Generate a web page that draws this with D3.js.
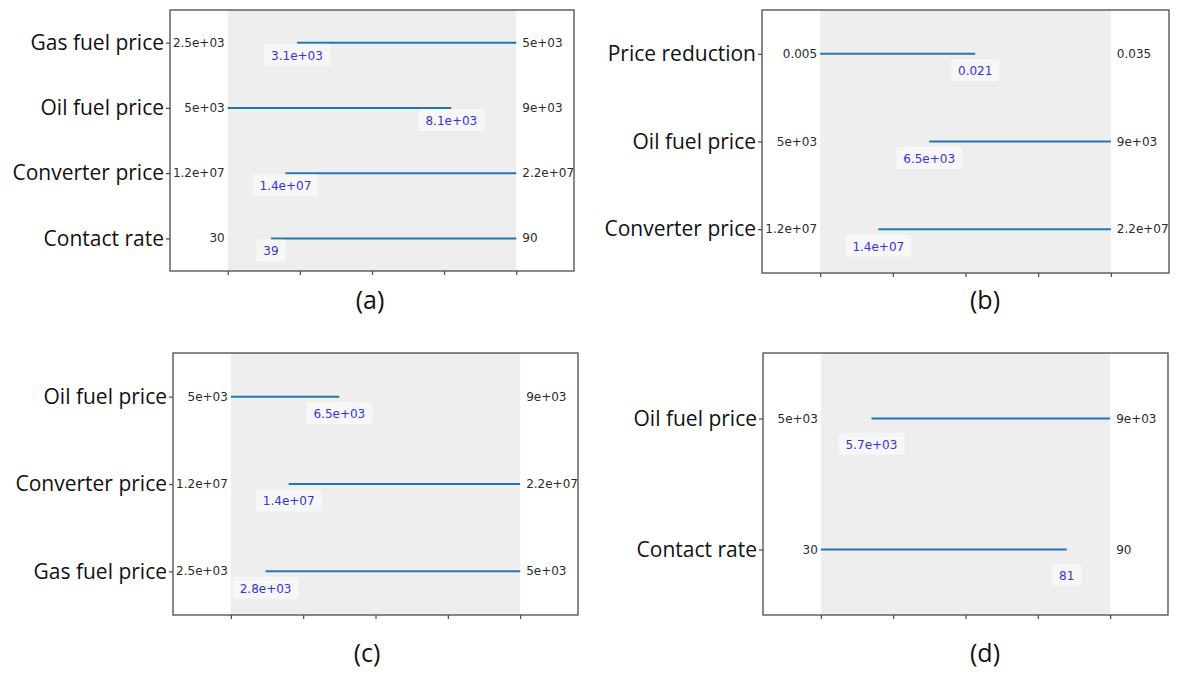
<!DOCTYPE html>
<html>
<head>
<meta charset="utf-8">
<script src="https://cdn.jsdelivr.net/npm/d3@7"></script>
<style>
  html, body { margin: 0; padding: 0; background: #ffffff; }
  svg { display: block; }
</style>
</head>
<body>
<svg id="chart" width="1180" height="675"></svg>
<script>
// Full ranges of each uncertainty (the shaded band spans min..max)
const uncertaintyNames = ["Gas fuel price", "Oil fuel price", "Converter price", "Contact rate", "Price reduction"];
const uncertaintyMin   = [2500, 5000, 1.2e7, 30, 0.005];
const uncertaintyMax   = [5000, 9000, 2.2e7, 90, 0.035];

// Box limits found for each scenario, one set of arrays per panel
const panelA_names = ["Gas fuel price", "Oil fuel price", "Converter price", "Contact rate"];
const panelA_low   = [3100, 5000, 1.4e7, 39];
const panelA_high  = [5000, 8100, 2.2e7, 90];

const panelB_names = ["Price reduction", "Oil fuel price", "Converter price"];
const panelB_low   = [0.005, 6500, 1.4e7];
const panelB_high  = [0.021, 9000, 2.2e7];

const panelC_names = ["Oil fuel price", "Converter price", "Gas fuel price"];
const panelC_low   = [5000, 1.4e7, 2800];
const panelC_high  = [6500, 2.2e7, 5000];

const panelD_names = ["Oil fuel price", "Contact rate"];
const panelD_low   = [5700, 30];
const panelD_high  = [9000, 81];

const captions = ["(a)", "(b)", "(c)", "(d)"];
const xTicks = [0, 0.25, 0.5, 0.75, 1];

// Layout of the four panels (frame box and caption position)
const layout = [
  { left: 170, top: 10,  right: 574,  bottom: 271, capX: 370, capY: 299 },
  { left: 762, top: 10,  right: 1169, bottom: 273, capX: 985, capY: 299 },
  { left: 173, top: 353, right: 578,  bottom: 615, capX: 367, capY: 652 },
  { left: 763, top: 353, right: 1168, bottom: 615, capX: 985, capY: 652 }
];

const panels = [
  { names: panelA_names, low: panelA_low, high: panelA_high },
  { names: panelB_names, low: panelB_low, high: panelB_high },
  { names: panelC_names, low: panelC_low, high: panelC_high },
  { names: panelD_names, low: panelD_low, high: panelD_high }
];

// Python-style "{:.2g}" formatting: 5e+03, 1.2e+07, 30, 0.005
const fmtFixed = d3.format(".2~g");
function fmt(v) {
  if (v === 0) return "0";
  const e = Math.floor(Math.log10(Math.abs(+v.toPrecision(2))));
  if (e < -4 || e >= 2) {
    let [m, ex] = v.toExponential(1).split("e");
    m = m.replace(/\.0$/, "");
    const sign = ex[0] === "-" ? "-" : "+";
    const digits = ex.replace(/[+-]/, "").padStart(2, "0");
    return m + "e" + sign + digits;
  }
  return fmtFixed(v);
}

const svg = d3.select("#chart");
const labelFont = "'Open Sans', Lato, sans-serif";
const numFont = "'DejaVu Sans', sans-serif";

panels.forEach((p, i) => {
  const L = layout[i];
  const g = svg.append("g");

  const x = d3.scaleLinear().domain([-0.2, 1.2]).range([L.left, L.right]);
  const y = d3.scalePoint().domain(p.names).range([L.top, L.bottom]).padding(0.5);
  const step = y.step();

  // shaded band for the normalised full range [0, 1]
  g.append("rect")
    .attr("x", x(0)).attr("y", L.top)
    .attr("width", x(1) - x(0)).attr("height", L.bottom - L.top)
    .attr("fill", "#eeeeee");

  const rows = p.names.map((name, k) => {
    const u = uncertaintyNames.indexOf(name);
    const mn = uncertaintyMin[u], mx = uncertaintyMax[u];
    const norm = d3.scaleLinear().domain([mn, mx]).range([0, 1]);
    return { name, mn, mx, lo: p.low[k], hi: p.high[k], nlo: norm(p.low[k]), nhi: norm(p.high[k]) };
  });

  // box limit lines
  g.selectAll("line.box").data(rows).join("line")
    .attr("class", "box")
    .attr("x1", d => x(d.nlo)).attr("x2", d => x(d.nhi))
    .attr("y1", d => y(d.name)).attr("y2", d => y(d.name))
    .attr("stroke", "#1f77b4").attr("stroke-width", 2);

  // full-range end labels
  g.selectAll("text.min").data(rows).join("text")
    .attr("class", "min")
    .attr("x", x(0) - 3).attr("y", d => y(d.name))
    .attr("text-anchor", "end").attr("dominant-baseline", "central")
    .attr("font-family", numFont).attr("font-size", 12).attr("fill", "#2b2b2b")
    .text(d => fmt(d.mn));

  g.selectAll("text.max").data(rows).join("text")
    .attr("class", "max")
    .attr("x", x(1) + 6).attr("y", d => y(d.name))
    .attr("text-anchor", "start").attr("dominant-baseline", "central")
    .attr("font-family", numFont).attr("font-size", 12).attr("fill", "#2b2b2b")
    .text(d => fmt(d.mx));

  // restricted bound labels, just below each line
  const boundRows = rows.map(d => {
    const useLow = d.lo > d.mn;
    return { name: d.name, v: useLow ? d.lo : d.hi, nx: useLow ? d.nlo : d.nhi };
  });
  const bl = g.selectAll("g.bound").data(boundRows).join("g")
    .attr("class", "bound")
    .attr("transform", d => `translate(${x(d.nx)},${y(d.name) + 0.2 * step})`);
  bl.append("rect")
    .attr("fill", "#ffffff").attr("fill-opacity", 0.5).attr("rx", 2);
  bl.append("text")
    .attr("text-anchor", "middle").attr("dominant-baseline", "central")
    .attr("font-family", numFont).attr("font-size", 12).attr("fill", "#3333e0")
    .text(d => fmt(d.v));
  bl.each(function () {
    const t = d3.select(this).select("text").node().getBBox();
    d3.select(this).select("rect")
      .attr("x", t.x - 7).attr("y", t.y - 5)
      .attr("width", t.width + 14).attr("height", t.height + 8);
  });

  // frame
  g.append("rect")
    .attr("x", L.left).attr("y", L.top)
    .attr("width", L.right - L.left).attr("height", L.bottom - L.top)
    .attr("fill", "none").attr("stroke", "#4a4a4a").attr("stroke-width", 1.3);

  // bottom ticks (no labels)
  const xAxis = d3.axisBottom(x).tickValues(xTicks).tickSize(4).tickFormat("");
  const xa = g.append("g").attr("transform", `translate(0,${L.bottom})`).call(xAxis);
  xa.select(".domain").remove();
  xa.selectAll(".tick line").attr("stroke", "#4a4a4a").attr("stroke-width", 1.2);

  // left axis with uncertainty names
  const yAxis = d3.axisLeft(y).tickSize(4).tickPadding(2);
  const ya = g.append("g").attr("transform", `translate(${L.left},0)`).call(yAxis);
  ya.select(".domain").remove();
  ya.selectAll(".tick line").attr("stroke", "#4a4a4a").attr("stroke-width", 1.2);
  ya.selectAll(".tick text")
    .attr("font-family", labelFont).attr("font-size", 21).attr("fill", "#111111");

  // caption
  svg.append("text")
    .attr("x", L.capX).attr("y", L.capY)
    .attr("text-anchor", "middle").attr("dominant-baseline", "central")
    .attr("font-family", labelFont).attr("font-size", 25).attr("fill", "#111111")
    .text(captions[i]);
});
</script>
</body>
</html>
